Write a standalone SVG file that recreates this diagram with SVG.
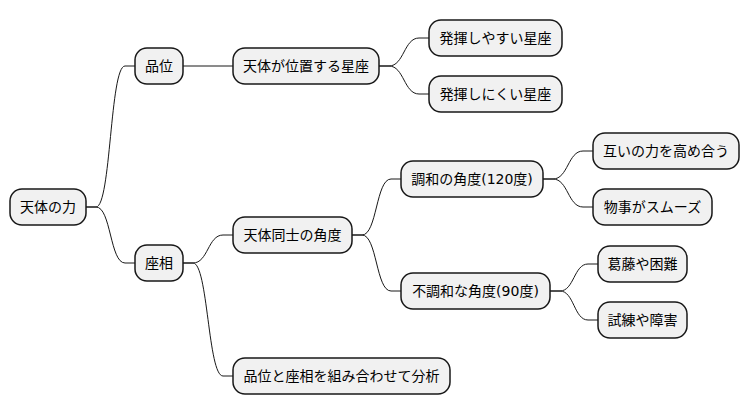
<svg xmlns="http://www.w3.org/2000/svg" width="750" height="415" viewBox="0 0 750 415">
<style>
.n rect{fill:#F1F1F1;stroke:#181818;stroke-width:1.5}
.n text{font-family:"DejaVu Sans","Noto Sans CJK JP",sans-serif;font-size:14px;fill:#000;text-anchor:middle}
.c path{fill:none;stroke:#181818;stroke-width:1}
</style>
<rect width="750" height="415" fill="#fff"/>
<g class="c">
<path d="M86,207 L96,207 C111,207 110,66 125,66 L135,66"/>
<path d="M86,207 L96,207 C111,207 110,263 125,263 L135,263"/>
<path d="M183,66 L233,66"/>
<path d="M379,66 L389,66 C404,66 404,38 419,38 L429,38"/>
<path d="M379,66 L389,66 C404,66 404,94 419,94 L429,94"/>
<path d="M183,263 L193,263 C208,263 208,235 223,235 L233,235"/>
<path d="M183,263 L193,263 C208,263 208,376 223,376 L233,376"/>
<path d="M352,235 L362,235 C377,235 376,179 391,179 L401,179"/>
<path d="M352,235 L362,235 C377,235 376,291 391,291 L401,291"/>
<path d="M543,179 L553,179 C568,179 568,151 583,151 L593,151"/>
<path d="M543,179 L553,179 C568,179 568,207 583,207 L593,207"/>
<path d="M550,291 L560,291 C574,291 574,264 588,264 L598,264"/>
<path d="M550,291 L560,291 C574,291 574,320 588,320 L598,320"/>
</g>
<g id="root" class="n"><rect x="10" y="189" width="76" height="36" rx="12"/><text x="48" y="212">天体の力</text></g>
<g id="hini" class="n"><rect x="135" y="48" width="48" height="36" rx="12"/><text x="159" y="71">品位</text></g>
<g id="zasou" class="n"><rect x="135" y="245" width="48" height="36" rx="12"/><text x="159" y="268">座相</text></g>
<g id="seiza" class="n"><rect x="233" y="48" width="146" height="36" rx="12"/><text x="306" y="71">天体が位置する星座</text></g>
<g id="yasui" class="n"><rect x="429" y="20" width="133" height="36" rx="12"/><text x="495.5" y="43">発揮しやすい星座</text></g>
<g id="nikui" class="n"><rect x="429" y="76" width="133" height="36" rx="12"/><text x="495.5" y="99">発揮しにくい星座</text></g>
<g id="kakudo" class="n"><rect x="233" y="217" width="119" height="36" rx="12"/><text x="292.5" y="240">天体同士の角度</text></g>
<g id="bunseki" class="n"><rect x="233" y="358" width="217" height="36" rx="12"/><text x="341.5" y="381">品位と座相を組み合わせて分析</text></g>
<g id="chowa" class="n"><rect x="401" y="161" width="142" height="36" rx="12"/><text x="472" y="184">調和の角度(120度)</text></g>
<g id="fuchowa" class="n"><rect x="401" y="273" width="149" height="36" rx="12"/><text x="475.5" y="296">不調和な角度(90度)</text></g>
<g id="takame" class="n"><rect x="593" y="133" width="146" height="36" rx="12"/><text x="666" y="156">互いの力を高め合う</text></g>
<g id="smooth" class="n"><rect x="593" y="189" width="119" height="36" rx="12"/><text x="652.5" y="212">物事がスムーズ</text></g>
<g id="katto" class="n"><rect x="598" y="246" width="89" height="36" rx="12"/><text x="642.5" y="269">葛藤や困難</text></g>
<g id="shiren" class="n"><rect x="598" y="302" width="89" height="36" rx="12"/><text x="642.5" y="325">試練や障害</text></g>
</svg>
